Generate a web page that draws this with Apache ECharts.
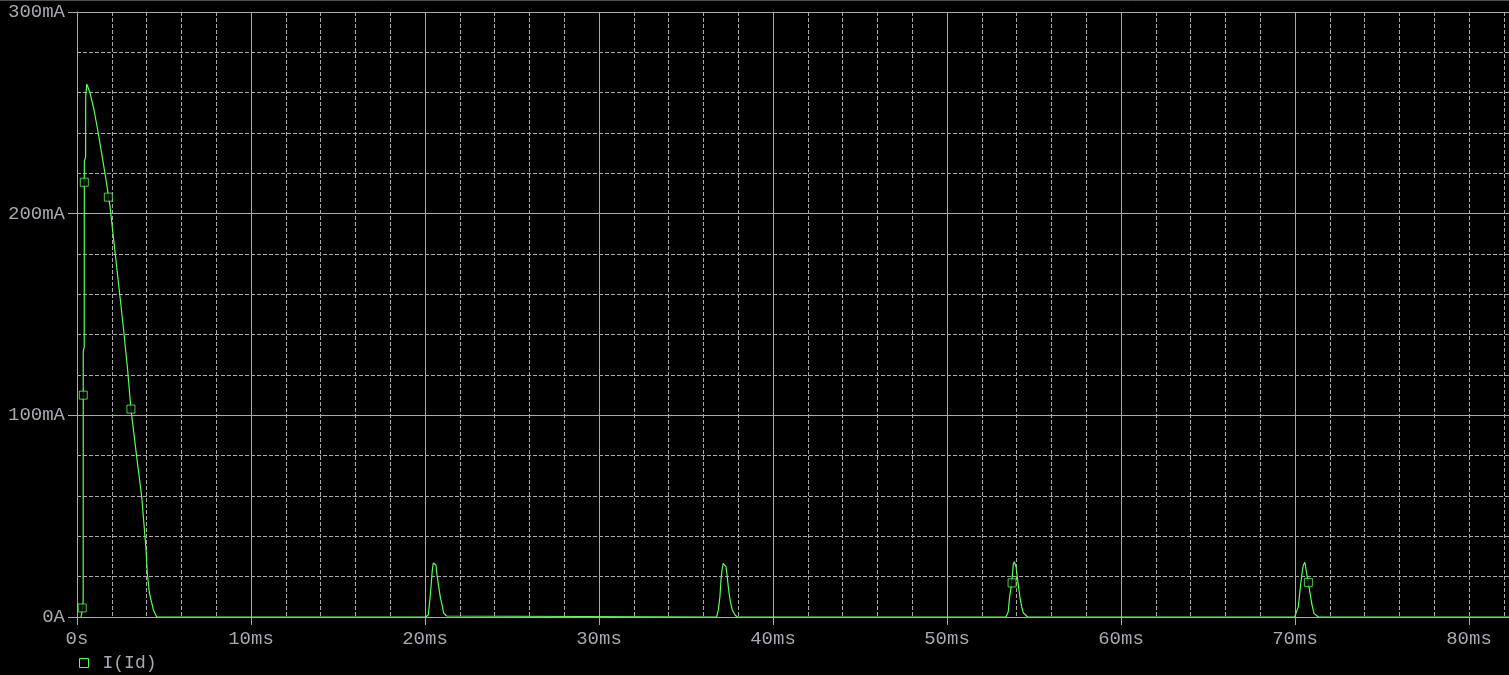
<!DOCTYPE html>
<html>
<head>
<meta charset="utf-8">
<script src="https://cdn.jsdelivr.net/npm/echarts@6/dist/echarts.min.js"></script>
<style>
  html, body { margin: 0; padding: 0; background: #000; }
  #chart { width: 1509px; height: 675px; }
</style>
</head>
<body>
<div id="chart"></div>
<script>
// I(Id) trace, time in ms, current in mA
const traceTimeMs = [
  0.23, 0.30, 0.355, 0.36, 0.415, 0.42, 0.495, 0.50, 0.56,
  0.75, 0.98, 1.22, 1.45, 1.67, 1.90, 2.09, 2.28, 2.47, 2.66, 2.91, 3.10,
  3.43, 3.72, 3.97, 4.04, 4.16, 4.39, 4.58,
  20.04, 20.19, 20.29, 20.34, 20.42, 20.48, 20.53, 20.63, 20.69, 20.79, 20.88, 20.98, 21.07, 21.25, 21.34,
  36.76, 36.86, 36.95, 37.01, 37.07, 37.14, 37.22, 37.30, 37.37, 37.45, 37.55, 37.66, 37.82, 37.95,
  53.39, 53.52, 53.60, 53.68, 53.78, 53.81, 53.87, 53.97, 54.04, 54.12, 54.20, 54.29, 54.39, 54.64,
  69.98, 70.19, 70.29, 70.39, 70.48, 70.57, 70.67, 70.82, 70.96, 71.09, 71.34,
  83.0
];
const traceCurrentMA = [
  0, 3, 8, 132, 134, 226, 228, 258, 264.3,
  259.8, 251.4, 240.0, 228.2, 216.7, 203.4, 188.5, 173.7, 158.8, 143.9, 122.5, 103.1,
  79.5, 59.5, 33.2, 21.7, 11.9, 3.5, 0,
  0, 1, 9.4, 14.4, 23.3, 26.8, 27.3, 25.8, 20.8, 14.9, 9.9, 5.9, 2.0, 0.5, 0,
  0, 3.5, 10.1, 18.3, 23.3, 26.6, 27.3, 24.9, 20.0, 13.4, 7.6, 3.5, 1.0, 0,
  0, 2.6, 10.1, 14.4, 22.5, 26.3, 27.4, 24.9, 19.9, 14.4, 9.4, 5.1, 2.0, 0,
  0, 5.0, 13.4, 20.8, 25.8, 27.1, 21.7, 14.2, 6.8, 1.8, 0,
  0
];

// square markers placed on the trace
const markerTimeMs = [0.30, 0.36, 0.42, 1.80, 3.10, 53.74, 70.77];
const markerCurrentMA = [4.5, 110, 215.6, 208.2, 103.1, 16.9, 17.2];

const xTickValues = [0, 10, 20, 30, 40, 50, 60, 70, 80];
const xTickLabels = ["0s", "10ms", "20ms", "30ms", "40ms", "50ms", "60ms", "70ms", "80ms"];
const yTickValues = [0, 100, 200, 300];
const yTickLabels = ["0A", "100mA", "200mA", "300mA"];

const TRACE_COLOR = "#58ff58";
const GRID_COLOR = "#aaaaaa";
const TEXT_COLOR = "#a8a8b0";
const FONT = "'Liberation Mono', 'DejaVu Sans Mono', monospace";
const X_MAX = 82.3;

const chart = echarts.init(document.getElementById("chart"), null, { renderer: "canvas" });

chart.setOption({
  backgroundColor: "#000",
  animation: false,
  grid: { left: 77, right: 0, top: 12, bottom: 58 },
  graphic: [
    {
      type: "line",
      shape: { x1: 0, y1: 0.5, x2: 1509, y2: 0.5 },
      style: { stroke: "#505050", lineWidth: 1 },
    },
  ],
  legend: {
    left: 79,
    top: 654,
    padding: 0,
    icon: "rect",
    itemWidth: 9,
    itemHeight: 9,
    data: ["I(Id)"],
    itemStyle: { color: "#000", borderColor: TRACE_COLOR, borderWidth: 1 },
    textStyle: { color: TEXT_COLOR, fontFamily: FONT, fontSize: 18, padding: [0, 0, 0, 9] },
  },
  xAxis: [
    {
      type: "value",
      min: 0,
      max: X_MAX,
      interval: 10,
      z: 1,
      axisLine: { show: false },
      axisTick: {
        show: true,
        length: 8,
        customValues: xTickValues,
        lineStyle: { color: GRID_COLOR },
      },
      axisLabel: {
        customValues: xTickValues,
        margin: 12,
        color: TEXT_COLOR,
        fontFamily: FONT,
        fontSize: 19,
        formatter: (v) => {
          const i = xTickValues.indexOf(Math.round(v * 1000) / 1000);
          return i >= 0 ? xTickLabels[i] : "";
        },
      },
      splitLine: {
        show: true,
        showMaxLine: false,
        lineStyle: { color: GRID_COLOR, width: 1 },
      },
    },
    {
      type: "value",
      min: 0,
      max: X_MAX,
      interval: 2,
      z: 0,
      axisLine: { show: false },
      axisTick: { show: false },
      axisLabel: { show: false },
      splitLine: {
        show: true,
        showMinLine: false,
        showMaxLine: false,
        lineStyle: { color: GRID_COLOR, width: 1, type: [4, 2] },
      },
    },
  ],
  yAxis: {
    type: "value",
    min: 0,
    max: 300,
    interval: 100,
    axisLine: { show: true, onZero: false, lineStyle: { color: GRID_COLOR } },
    axisTick: { show: true, length: 9, lineStyle: { color: GRID_COLOR } },
    axisLabel: {
      margin: 12,
      color: TEXT_COLOR,
      fontFamily: FONT,
      fontSize: 19,
      formatter: (v) => {
        const i = yTickValues.indexOf(v);
        return i >= 0 ? yTickLabels[i] : "";
      },
    },
    splitLine: { show: true, lineStyle: { color: GRID_COLOR, width: 1 } },
    minorTick: { show: false, splitNumber: 5 },
    minorSplitLine: { show: true, lineStyle: { color: GRID_COLOR, width: 1, type: [4, 2] } },
  },
  series: [
    {
      name: "I(Id)",
      type: "line",
      xAxisIndex: 0,
      data: traceTimeMs.map((t, i) => [t, traceCurrentMA[i]]),
      showSymbol: false,
      symbol: "none",
      lineStyle: { color: TRACE_COLOR, width: 1.2 },
      itemStyle: { color: TRACE_COLOR },
      emphasis: { disabled: true },
      z: 3,
    },
    {
      name: "I(Id)",
      type: "scatter",
      xAxisIndex: 0,
      data: markerTimeMs.map((t, i) => [t, markerCurrentMA[i]]),
      symbol: "rect",
      symbolSize: 8,
      itemStyle: { color: "#000", borderColor: TRACE_COLOR, borderWidth: 1 },
      emphasis: { disabled: true },
      z: 4,
    },
  ],
});
</script>
</body>
</html>
